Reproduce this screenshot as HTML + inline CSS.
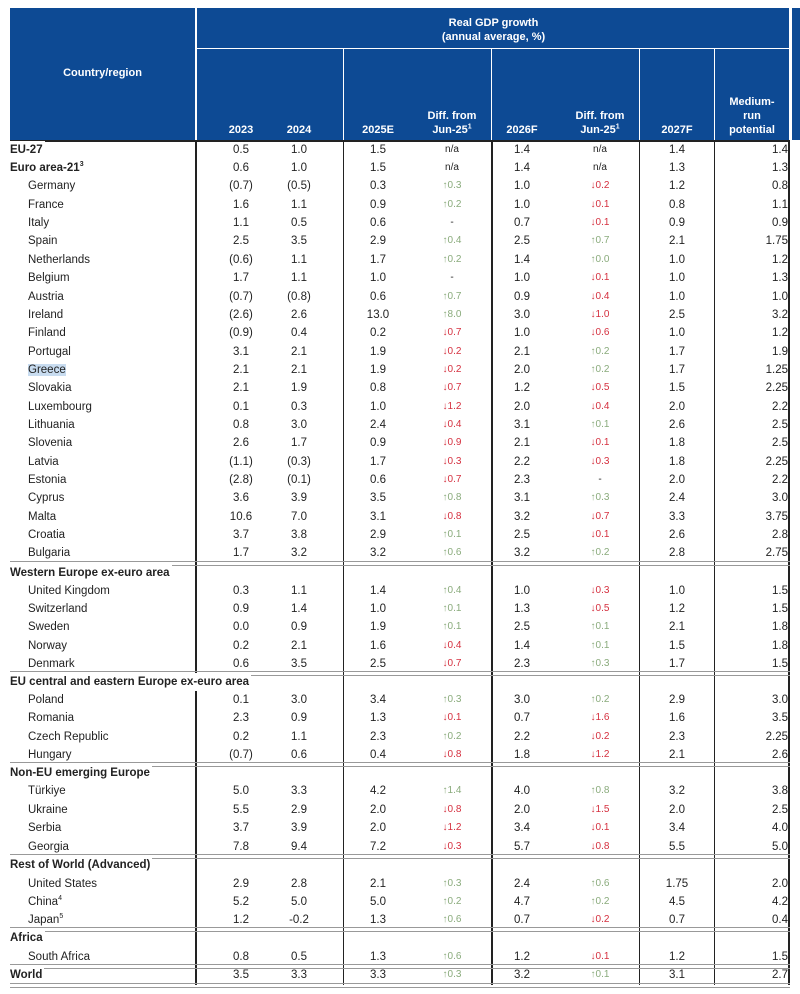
<!DOCTYPE html>
<html><head><meta charset="utf-8"><style>
body{margin:0;width:800px;height:994px;background:#fff;position:relative;overflow:hidden;font-family:"Liberation Sans",Arial,sans-serif;font-size:11.5px;color:#222}
.hd{position:absolute;background:#0d4a94;color:#fff;font-weight:bold;font-size:11px}
.ht{position:absolute;color:#fff;font-weight:bold;font-size:11px;text-align:center;line-height:14px}
.r{position:absolute;left:0;width:800px;height:18px;line-height:18px}
.r span{position:absolute;top:0;width:60px;text-align:center}
.r .n{left:28px;width:165px;text-align:left}
.r .h{left:10px;width:auto;padding-right:2px;text-align:left;font-weight:bold;background:#fff;white-space:nowrap}
.r .a{left:211px}.r .b{left:269px}.r .e{left:348px}.r .d{left:422px;font-size:10px}.r .f{left:492px}.r .k{left:570px;font-size:10px}.r .g{left:647px}.r .m{left:728px;text-align:right}
.u{color:#8aab7c}.w{color:#d5303f}.na{font-size:9px}
.v{position:absolute;top:140px;background:#222}
.s{position:absolute;left:10px;width:780px;height:3px;border-top:1px solid #999;border-bottom:1px solid #999}
sup{font-size:7px;line-height:0}
</style></head><body>
<div class="hd" style="left:10px;top:8px;width:780px;height:132px"></div>
<div class="hd" style="left:792px;top:8px;width:8px;height:132px"></div>
<div style="position:absolute;left:195px;top:8px;width:2px;height:132px;background:#fff"></div>
<div style="position:absolute;left:197px;top:48px;width:593px;height:1px;background:#fff"></div>
<div style="position:absolute;left:343px;top:48px;width:1px;height:92px;background:#fff"></div>
<div style="position:absolute;left:491px;top:48px;width:1px;height:92px;background:#fff"></div>
<div style="position:absolute;left:639px;top:48px;width:1px;height:92px;background:#fff"></div>
<div style="position:absolute;left:714px;top:48px;width:1px;height:92px;background:#fff"></div>
<div style="position:absolute;left:789px;top:8px;width:2px;height:132px;background:#fff"></div>
<div class="ht" style="left:10px;top:66px;width:185px">Country/region</div>
<div class="ht" style="left:197px;top:16px;width:593px">Real GDP growth<br>(annual average, %)</div>
<div class="ht" style="left:211px;top:123px;width:60px">2023</div>
<div class="ht" style="left:269px;top:123px;width:60px">2024</div>
<div class="ht" style="left:348px;top:123px;width:60px">2025E</div>
<div class="ht" style="left:417px;top:109px;width:70px">Diff. from<br>Jun-25<sup>1</sup></div>
<div class="ht" style="left:492px;top:123px;width:60px">2026F</div>
<div class="ht" style="left:565px;top:109px;width:70px">Diff. from<br>Jun-25<sup>1</sup></div>
<div class="ht" style="left:647px;top:123px;width:60px">2027F</div>
<div class="ht" style="left:715px;top:95px;width:74px">Medium-<br>run<br>potential</div>
<div style="position:absolute;left:10px;top:140px;width:780px;height:2px;background:#222"></div>
<div class="v" style="left:195px;width:2px;height:845px"></div>
<div class="v" style="left:343px;width:1px;height:845px"></div>
<div class="v" style="left:491px;width:2px;height:845px"></div>
<div class="v" style="left:639px;width:1px;height:845px"></div>
<div class="v" style="left:714px;width:1px;height:845px"></div>
<div class="v" style="left:788px;width:2px;height:845px"></div>

<div class="r" style="top:141px"><span class="h">EU-27</span><span class="a">0.5</span><span class="b">1.0</span><span class="e">1.5</span><span class="d na">n/a</span><span class="f">1.4</span><span class="k na">n/a</span><span class="g">1.4</span><span class="m">1.4</span></div>
<div class="r" style="top:159px"><span class="h">Euro area-21<sup>3</sup></span><span class="a">0.6</span><span class="b">1.0</span><span class="e">1.5</span><span class="d na">n/a</span><span class="f">1.4</span><span class="k na">n/a</span><span class="g">1.3</span><span class="m">1.3</span></div>
<div class="r" style="top:177px"><span class="n">Germany</span><span class="a">(0.7)</span><span class="b">(0.5)</span><span class="e">0.3</span><span class="d u">↑0.3</span><span class="f">1.0</span><span class="k w">↓0.2</span><span class="g">1.2</span><span class="m">0.8</span></div>
<div class="r" style="top:196px"><span class="n">France</span><span class="a">1.6</span><span class="b">1.1</span><span class="e">0.9</span><span class="d u">↑0.2</span><span class="f">1.0</span><span class="k w">↓0.1</span><span class="g">0.8</span><span class="m">1.1</span></div>
<div class="r" style="top:214px"><span class="n">Italy</span><span class="a">1.1</span><span class="b">0.5</span><span class="e">0.6</span><span class="d">-</span><span class="f">0.7</span><span class="k w">↓0.1</span><span class="g">0.9</span><span class="m">0.9</span></div>
<div class="r" style="top:232px"><span class="n">Spain</span><span class="a">2.5</span><span class="b">3.5</span><span class="e">2.9</span><span class="d u">↑0.4</span><span class="f">2.5</span><span class="k u">↑0.7</span><span class="g">2.1</span><span class="m">1.75</span></div>
<div class="r" style="top:251px"><span class="n">Netherlands</span><span class="a">(0.6)</span><span class="b">1.1</span><span class="e">1.7</span><span class="d u">↑0.2</span><span class="f">1.4</span><span class="k u">↑0.0</span><span class="g">1.0</span><span class="m">1.2</span></div>
<div class="r" style="top:269px"><span class="n">Belgium</span><span class="a">1.7</span><span class="b">1.1</span><span class="e">1.0</span><span class="d">-</span><span class="f">1.0</span><span class="k w">↓0.1</span><span class="g">1.0</span><span class="m">1.3</span></div>
<div class="r" style="top:288px"><span class="n">Austria</span><span class="a">(0.7)</span><span class="b">(0.8)</span><span class="e">0.6</span><span class="d u">↑0.7</span><span class="f">0.9</span><span class="k w">↓0.4</span><span class="g">1.0</span><span class="m">1.0</span></div>
<div class="r" style="top:306px"><span class="n">Ireland</span><span class="a">(2.6)</span><span class="b">2.6</span><span class="e">13.0</span><span class="d u">↑8.0</span><span class="f">3.0</span><span class="k w">↓1.0</span><span class="g">2.5</span><span class="m">3.2</span></div>
<div class="r" style="top:324px"><span class="n">Finland</span><span class="a">(0.9)</span><span class="b">0.4</span><span class="e">0.2</span><span class="d w">↓0.7</span><span class="f">1.0</span><span class="k w">↓0.6</span><span class="g">1.0</span><span class="m">1.2</span></div>
<div class="r" style="top:343px"><span class="n">Portugal</span><span class="a">3.1</span><span class="b">2.1</span><span class="e">1.9</span><span class="d w">↓0.2</span><span class="f">2.1</span><span class="k u">↑0.2</span><span class="g">1.7</span><span class="m">1.9</span></div>
<div class="r" style="top:361px"><span class="n"><span style="position:static;background:#c8dcf0">Greece</span></span><span class="a">2.1</span><span class="b">2.1</span><span class="e">1.9</span><span class="d w">↓0.2</span><span class="f">2.0</span><span class="k u">↑0.2</span><span class="g">1.7</span><span class="m">1.25</span></div>
<div class="r" style="top:379px"><span class="n">Slovakia</span><span class="a">2.1</span><span class="b">1.9</span><span class="e">0.8</span><span class="d w">↓0.7</span><span class="f">1.2</span><span class="k w">↓0.5</span><span class="g">1.5</span><span class="m">2.25</span></div>
<div class="r" style="top:398px"><span class="n">Luxembourg</span><span class="a">0.1</span><span class="b">0.3</span><span class="e">1.0</span><span class="d w">↓1.2</span><span class="f">2.0</span><span class="k w">↓0.4</span><span class="g">2.0</span><span class="m">2.2</span></div>
<div class="r" style="top:416px"><span class="n">Lithuania</span><span class="a">0.8</span><span class="b">3.0</span><span class="e">2.4</span><span class="d w">↓0.4</span><span class="f">3.1</span><span class="k u">↑0.1</span><span class="g">2.6</span><span class="m">2.5</span></div>
<div class="r" style="top:434px"><span class="n">Slovenia</span><span class="a">2.6</span><span class="b">1.7</span><span class="e">0.9</span><span class="d w">↓0.9</span><span class="f">2.1</span><span class="k w">↓0.1</span><span class="g">1.8</span><span class="m">2.5</span></div>
<div class="r" style="top:453px"><span class="n">Latvia</span><span class="a">(1.1)</span><span class="b">(0.3)</span><span class="e">1.7</span><span class="d w">↓0.3</span><span class="f">2.2</span><span class="k w">↓0.3</span><span class="g">1.8</span><span class="m">2.25</span></div>
<div class="r" style="top:471px"><span class="n">Estonia</span><span class="a">(2.8)</span><span class="b">(0.1)</span><span class="e">0.6</span><span class="d w">↓0.7</span><span class="f">2.3</span><span class="k">-</span><span class="g">2.0</span><span class="m">2.2</span></div>
<div class="r" style="top:489px"><span class="n">Cyprus</span><span class="a">3.6</span><span class="b">3.9</span><span class="e">3.5</span><span class="d u">↑0.8</span><span class="f">3.1</span><span class="k u">↑0.3</span><span class="g">2.4</span><span class="m">3.0</span></div>
<div class="r" style="top:508px"><span class="n">Malta</span><span class="a">10.6</span><span class="b">7.0</span><span class="e">3.1</span><span class="d w">↓0.8</span><span class="f">3.2</span><span class="k w">↓0.7</span><span class="g">3.3</span><span class="m">3.75</span></div>
<div class="r" style="top:526px"><span class="n">Croatia</span><span class="a">3.7</span><span class="b">3.8</span><span class="e">2.9</span><span class="d u">↑0.1</span><span class="f">2.5</span><span class="k w">↓0.1</span><span class="g">2.6</span><span class="m">2.8</span></div>
<div class="r" style="top:544px"><span class="n">Bulgaria</span><span class="a">1.7</span><span class="b">3.2</span><span class="e">3.2</span><span class="d u">↑0.6</span><span class="f">3.2</span><span class="k u">↑0.2</span><span class="g">2.8</span><span class="m">2.75</span></div>
<div class="s" style="top:561px"></div>
<div class="r" style="top:564px"><span class="h">Western Europe ex-euro area</span></div>
<div class="r" style="top:582px"><span class="n">United Kingdom</span><span class="a">0.3</span><span class="b">1.1</span><span class="e">1.4</span><span class="d u">↑0.4</span><span class="f">1.0</span><span class="k w">↓0.3</span><span class="g">1.0</span><span class="m">1.5</span></div>
<div class="r" style="top:600px"><span class="n">Switzerland</span><span class="a">0.9</span><span class="b">1.4</span><span class="e">1.0</span><span class="d u">↑0.1</span><span class="f">1.3</span><span class="k w">↓0.5</span><span class="g">1.2</span><span class="m">1.5</span></div>
<div class="r" style="top:618px"><span class="n">Sweden</span><span class="a">0.0</span><span class="b">0.9</span><span class="e">1.9</span><span class="d u">↑0.1</span><span class="f">2.5</span><span class="k u">↑0.1</span><span class="g">2.1</span><span class="m">1.8</span></div>
<div class="r" style="top:637px"><span class="n">Norway</span><span class="a">0.2</span><span class="b">2.1</span><span class="e">1.6</span><span class="d w">↓0.4</span><span class="f">1.4</span><span class="k u">↑0.1</span><span class="g">1.5</span><span class="m">1.8</span></div>
<div class="r" style="top:655px"><span class="n">Denmark</span><span class="a">0.6</span><span class="b">3.5</span><span class="e">2.5</span><span class="d w">↓0.7</span><span class="f">2.3</span><span class="k u">↑0.3</span><span class="g">1.7</span><span class="m">1.5</span></div>
<div class="s" style="top:671px"></div>
<div class="r" style="top:673px"><span class="h">EU central and eastern Europe ex-euro area</span></div>
<div class="r" style="top:691px"><span class="n">Poland</span><span class="a">0.1</span><span class="b">3.0</span><span class="e">3.4</span><span class="d u">↑0.3</span><span class="f">3.0</span><span class="k u">↑0.2</span><span class="g">2.9</span><span class="m">3.0</span></div>
<div class="r" style="top:709px"><span class="n">Romania</span><span class="a">2.3</span><span class="b">0.9</span><span class="e">1.3</span><span class="d w">↓0.1</span><span class="f">0.7</span><span class="k w">↓1.6</span><span class="g">1.6</span><span class="m">3.5</span></div>
<div class="r" style="top:728px"><span class="n">Czech Republic</span><span class="a">0.2</span><span class="b">1.1</span><span class="e">2.3</span><span class="d u">↑0.2</span><span class="f">2.2</span><span class="k w">↓0.2</span><span class="g">2.3</span><span class="m">2.25</span></div>
<div class="r" style="top:746px"><span class="n">Hungary</span><span class="a">(0.7)</span><span class="b">0.6</span><span class="e">0.4</span><span class="d w">↓0.8</span><span class="f">1.8</span><span class="k w">↓1.2</span><span class="g">2.1</span><span class="m">2.6</span></div>
<div class="s" style="top:762px"></div>
<div class="r" style="top:764px"><span class="h">Non-EU emerging Europe</span></div>
<div class="r" style="top:782px"><span class="n">Türkiye</span><span class="a">5.0</span><span class="b">3.3</span><span class="e">4.2</span><span class="d u">↑1.4</span><span class="f">4.0</span><span class="k u">↑0.8</span><span class="g">3.2</span><span class="m">3.8</span></div>
<div class="r" style="top:801px"><span class="n">Ukraine</span><span class="a">5.5</span><span class="b">2.9</span><span class="e">2.0</span><span class="d w">↓0.8</span><span class="f">2.0</span><span class="k w">↓1.5</span><span class="g">2.0</span><span class="m">2.5</span></div>
<div class="r" style="top:819px"><span class="n">Serbia</span><span class="a">3.7</span><span class="b">3.9</span><span class="e">2.0</span><span class="d w">↓1.2</span><span class="f">3.4</span><span class="k w">↓0.1</span><span class="g">3.4</span><span class="m">4.0</span></div>
<div class="r" style="top:838px"><span class="n">Georgia</span><span class="a">7.8</span><span class="b">9.4</span><span class="e">7.2</span><span class="d w">↓0.3</span><span class="f">5.7</span><span class="k w">↓0.8</span><span class="g">5.5</span><span class="m">5.0</span></div>
<div class="s" style="top:854px"></div>
<div class="r" style="top:856px"><span class="h">Rest of World (Advanced)</span></div>
<div class="r" style="top:875px"><span class="n">United States</span><span class="a">2.9</span><span class="b">2.8</span><span class="e">2.1</span><span class="d u">↑0.3</span><span class="f">2.4</span><span class="k u">↑0.6</span><span class="g">1.75</span><span class="m">2.0</span></div>
<div class="r" style="top:893px"><span class="n">China<sup>4</sup></span><span class="a">5.2</span><span class="b">5.0</span><span class="e">5.0</span><span class="d u">↑0.2</span><span class="f">4.7</span><span class="k u">↑0.2</span><span class="g">4.5</span><span class="m">4.2</span></div>
<div class="r" style="top:911px"><span class="n">Japan<sup>5</sup></span><span class="a">1.2</span><span class="b">-0.2</span><span class="e">1.3</span><span class="d u">↑0.6</span><span class="f">0.7</span><span class="k w">↓0.2</span><span class="g">0.7</span><span class="m">0.4</span></div>
<div class="s" style="top:927px"></div>
<div class="r" style="top:929px"><span class="h">Africa</span></div>
<div class="r" style="top:948px"><span class="n">South Africa</span><span class="a">0.8</span><span class="b">0.5</span><span class="e">1.3</span><span class="d u">↑0.6</span><span class="f">1.2</span><span class="k w">↓0.1</span><span class="g">1.2</span><span class="m">1.5</span></div>
<div class="s" style="top:964px"></div>
<div class="r" style="top:966px"><span class="h">World</span><span class="a">3.5</span><span class="b">3.3</span><span class="e">3.3</span><span class="d u">↑0.3</span><span class="f">3.2</span><span class="k u">↑0.1</span><span class="g">3.1</span><span class="m">2.7</span></div>
<div class="s" style="top:983px"></div>
</body></html>
